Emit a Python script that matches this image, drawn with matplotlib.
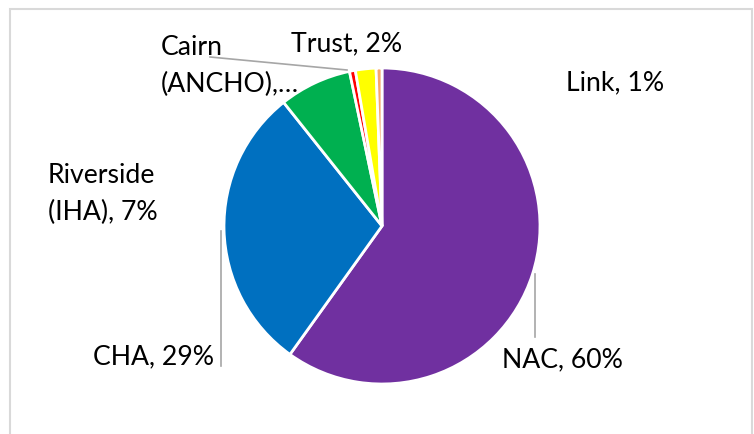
import matplotlib
matplotlib.use("Agg")
import matplotlib.pyplot as plt
from matplotlib.patches import Rectangle

# ---- data ----
categories = ["NAC", "CHA", "Riverside (IHA)", "Cairn (ANCHO)", "Trust", "Link"]
shares = [59.9, 29.4, 7.4, 0.6, 2.1, 0.6]
label_texts = ["NAC, 60%", "CHA, 29%", "Riverside\n(IHA), 7%", "Cairn\n(ANCHO),…", "Trust, 2%", "Link, 1%"]
colors = ["#7030A0", "#0070C0", "#00B050", "#FF0000", "#FFFF00", "#F8A66A"]

W, H = 754, 435
fig = plt.figure(figsize=(W / 100, H / 100), dpi=100)
ax = fig.add_axes([0, 0, 1, 1])

def P(x, y):
    return (x, H - y)

# chart frame
fig.patches.append(Rectangle((9.5 / W, -0.1), (752 - 9.5) / W, (H - 10) / H + 0.1,
                             transform=fig.transFigure, fill=False,
                             edgecolor="#D9D9D9", linewidth=1.5))

ax.pie(shares, colors=colors, startangle=90, counterclock=False,
       center=P(382, 227), radius=158, frame=True,
       wedgeprops=dict(edgecolor="white", linewidth=2))
ax.set_xlim(0, W)
ax.set_ylim(0, H)
ax.set_aspect("equal")
ax.axis("off")

font = dict(family=["Lato", "DejaVu Sans"], fontsize=19.2, color="#000000")

# label anchors (pixel coordinates): (x, y, ha)
label_pos = [(502, 360, "left"), (214, 357, "right"), (48, 194, "left"),
             (161, 66, "left"), (291, 44, "left"), (566, 83, "left")]
for txt, (x, y, ha) in zip(label_texts, label_pos):
    ax.text(*P(x, y), txt, ha=ha, va="center", multialignment="left",
            linespacing=1.6, **font)

# leader lines
lc = "#A6A6A6"
for (x0, y0), (x1, y1) in [((210, 58), (347, 71)), ((221, 232), (221, 367)),
                           ((535, 275), (535, 338))]:
    ax.plot([P(x0, y0)[0], P(x1, y1)[0]], [P(x0, y0)[1], P(x1, y1)[1]],
            color=lc, linewidth=1.2)

fig.savefig("out.png", dpi=100)
